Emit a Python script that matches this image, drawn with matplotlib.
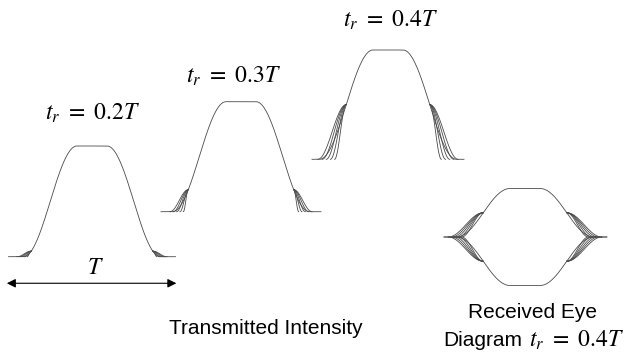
import numpy as np
import matplotlib
matplotlib.use("Agg")
import matplotlib.pyplot as plt

plt.rcParams['font.family'] = ['Liberation Sans', 'DejaVu Sans']
plt.rcParams['mathtext.fontset'] = 'stix'

# ---------------- data (time in units of T, intensity normalised) ----------
rise_labels = ["0.2", "0.3", "0.4"]          # t_r / T of the three pulses
eye_label = "0.4"
half_width = 0.25                            # half width at half maximum (T)
edge_duration = 0.32                         # main edge duration (T)
fan_join_height = [0.05, 0.20, 0.50]         # where pattern curves merge
fan_start_offsets = [                        # start of pattern curves, rel. to join (T)
    [-0.085, -0.07, -0.055, -0.04, -0.025],
    [-0.11, -0.09, -0.07, -0.05, -0.03],
    [-0.17, -0.145, -0.12, -0.095, -0.07],
]
eye_fan_join = 0.50
eye_fan_offsets = [-0.21, -0.19, -0.17, -0.15, -0.13]
bit_span = (-0.5, 0.5)

# ---------------- layout (pixels of the 630x352 canvas) --------------------
W, H = 630, 352
T_px = 167
pulse_center_x = [92, 241, 388]
pulse_base_y = [256.7, 211.7, 159.3]
pulse_amp_px = [110.7, 110.0, 109.3]
pulse_span_px = [167, 160, 152]
eye_center = (525, 237)
eye_amp_px = 48.5
label_pos = [(92, 113), (233, 76), (390, 20)]
LC = '#4a4a4a'
LW = 0.6


def rc(u):
    u = np.clip(u, 0, 1)
    return (1 - np.cos(np.pi * u)) / 2


def pulse(x):
    a = half_width + edge_duration / 2
    rise = rc((x + a) / edge_duration)
    fall = rc((a - x) / edge_duration)
    return np.minimum(rise, fall)


def join_x(h):
    u = np.arccos(1 - 2 * h) / np.pi
    return -(half_width + edge_duration / 2) + u * edge_duration


def draw_pulse(ax, hj, offsets, span, sign=1.0):
    x = np.linspace(span[0], span[1], 800)
    ax.plot(x, sign * pulse(x), color=LC, lw=LW, clip_on=False)
    xj = join_x(hj)
    for off in offsets:
        s = xj + off
        xs = np.linspace(s, xj, 80)
        ys = hj * rc((xs - s) / (xj - s))
        ax.plot(xs, sign * ys, color=LC, lw=LW, clip_on=False)
        ax.plot(-xs, sign * ys, color=LC, lw=LW, clip_on=False)


fig = plt.figure(figsize=(W / 100, H / 100), dpi=100)


def px_axes(cx, by, amp):
    left = (cx - T_px / 2) / W
    bottom = (H - by) / H
    ax = fig.add_axes([left, bottom, T_px / W, amp / H])
    ax.set_xlim(bit_span)
    ax.set_ylim(0, 1)
    ax.axis('off')
    return ax


def label(r):
    return r"$t_r\ =\ %sT$" % r


axes = []
for i in range(3):
    ax = px_axes(pulse_center_x[i], pulse_base_y[i], pulse_amp_px[i])
    half = pulse_span_px[i] / T_px / 2
    draw_pulse(ax, fan_join_height[i], fan_start_offsets[i], (-half, half))
    axes.append(ax)
    lx, ly = label_pos[i]
    fig.text(lx / W, 1 - ly / H, label(rise_labels[i]),
             ha='center', va='center', fontsize=17)

# T arrow under first pulse
ax0 = axes[0]
ax0.annotate('', xy=(bit_span[0] - 0.01, -0.24), xytext=(bit_span[1] + 0.005, -0.24),
             arrowprops=dict(arrowstyle='<|-|>', color='black', lw=0.8,
                             mutation_scale=13, shrinkA=0, shrinkB=0),
             annotation_clip=False)
ax0.text(0.02, -0.105, r"$T$", ha='center', va='center', fontsize=17)

# eye diagram
ex, ey = eye_center
eax = fig.add_axes([(ex - T_px / 2) / W, (H - ey - eye_amp_px) / H, T_px / W, 2 * eye_amp_px / H])
eax.set_xlim(bit_span)
eax.set_ylim(-1, 1)
eax.axis('off')
eye_span = (-0.485, 0.49)
draw_pulse(eax, eye_fan_join, eye_fan_offsets, eye_span, 1.0)
draw_pulse(eax, eye_fan_join, eye_fan_offsets, eye_span, -1.0)

fig.text(266 / W, 1 - 328 / H, "Transmitted Intensity", ha='center', va='center', fontsize=15)
fig.text(533 / W, 1 - 312 / H, "Received Eye", ha='center', va='center', fontsize=15)
fig.text(443 / W, 1 - 340 / H, "Diagram", ha='left', va='center', fontsize=15)
fig.text(529 / W, 1 - 340 / H, label(eye_label), ha='left', va='center', fontsize=17)

fig.savefig("out.png", dpi=100)
